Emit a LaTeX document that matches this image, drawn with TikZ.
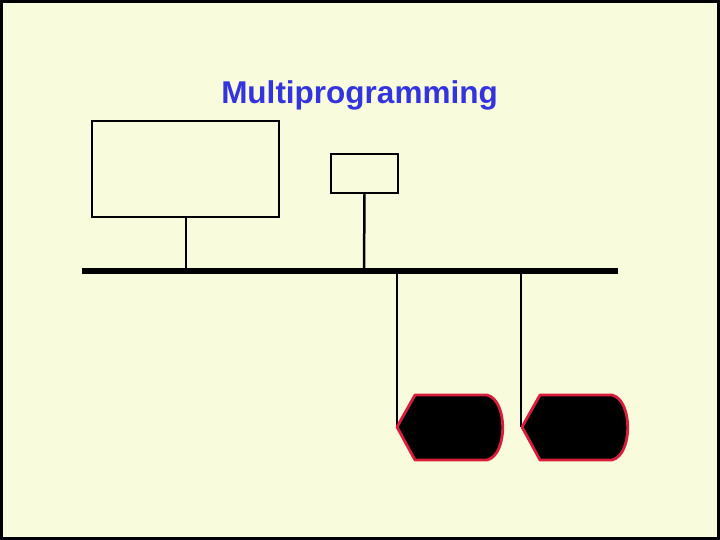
\documentclass[tikz,border=0pt]{standalone}
\usepackage{fontspec}
\setmainfont{Liberation Sans}
\definecolor{bg}{HTML}{F9FCDC}
\definecolor{ttl}{HTML}{3333E0}
\definecolor{rim}{HTML}{D81E3C}
\begin{document}
\begin{tikzpicture}[x=1pt,y=-1pt,
  box/.style={draw=black,line width=2.5pt},
  wire/.style={draw=black,line width=2.5pt},
  tape/.style={fill=black,draw=rim,line width=2.8pt,line join=round}]
\fill[bg,draw=black,line width=3pt] (1.5,1.5) rectangle (718.5,538.5);
\useasboundingbox (0,0) rectangle (720,540);
\node[text=ttl,font=\bfseries\fontsize{31.5}{36}\selectfont] (title) at (359.5,95) {Multiprogramming};
\node[box,minimum width=187pt,minimum height=96pt,inner sep=0pt] (cpu) at (185.5,169) {};
\node[box,minimum width=67pt,minimum height=39pt,inner sep=0pt] (mem) at (364.5,173.5) {};
\coordinate (busl) at (82,271);
\coordinate (busr) at (618,271);
\draw[line width=5.5pt] (busl) -- (busr);
\coordinate (c1) at (186,271);
\coordinate (c2) at (364,271);
\draw[wire] (cpu.south -| c1) -- (c1);
\draw[wire] (mem.south) -- (c2);
\coordinate (t1) at (397,427);
\coordinate (t2) at (521,427);
\draw[wire] (397,271) -- (t1);
\draw[wire] (521,271) -- (t2);
\path[tape] (t1) -- (415,395) -- (487,395) .. controls (508,400) and (508,455) .. (487,460) -- (415,460) -- cycle;
\path[tape] (522,427) -- (540,395) -- (612,395) .. controls (633,400) and (633,455) .. (612,460) -- (540,460) -- cycle;
\end{tikzpicture}
\end{document}
